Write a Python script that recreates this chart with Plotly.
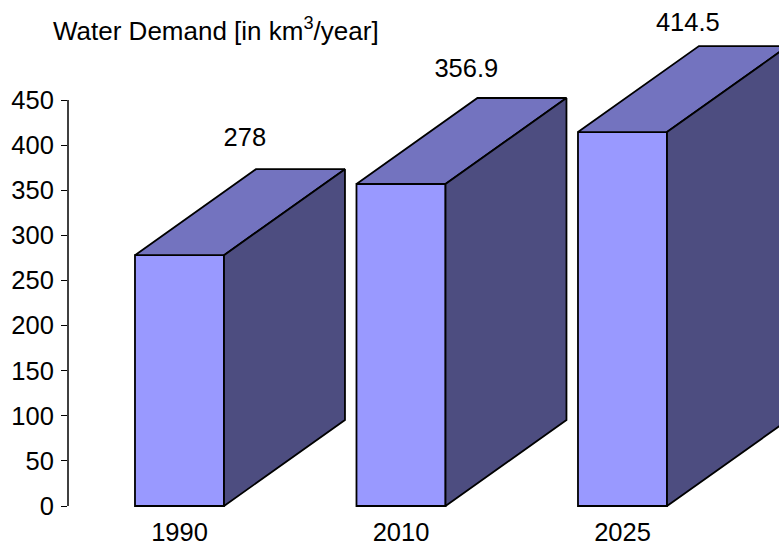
import plotly.graph_objects as go

# Data
years = ["1990", "2010", "2025"]
demand = [278, 356.9, 414.5]
labels = ["278", "356.9", "414.5"]
y_ticks = [0, 50, 100, 150, 200, 250, 300, 350, 400, 450]
title_text = "Water Demand [in km<sup>3</sup>/year]"

# Style / geometry
W, H = 779, 544
L, B = 68, 34
FONT = "Liberation Sans, Arial, sans-serif"
FS = 25.5
FRONT, TOP, SIDE = "#9999FF", "#7373BF", "#4D4D80"
EDGE = "#000000"
EDGE_W = 1.8
BAR_W = 0.402
DEPTH_X = 0.546
DEPTH_Y = 95.3
LABEL_DX = 0.295
LABEL_LIFT = [33, 30, 23.5]

fig = go.Figure()
positions = list(range(len(years)))
fig.add_trace(go.Bar(
    x=positions, y=demand, width=BAR_W,
    marker=dict(color=FRONT, line=dict(color=EDGE, width=EDGE_W)),
    showlegend=False, hoverinfo="skip",
))
for p, v in zip(positions, demand):
    x0, x1 = p - BAR_W / 2, p + BAR_W / 2
    fig.add_trace(go.Scatter(
        x=[x0, x1, x1 + DEPTH_X, x0 + DEPTH_X, x0],
        y=[v, v, v + DEPTH_Y, v + DEPTH_Y, v],
        mode="lines", fill="toself", fillcolor=TOP,
        line=dict(color=EDGE, width=EDGE_W), showlegend=False, hoverinfo="skip",
    ))
    fig.add_trace(go.Scatter(
        x=[x1, x1 + DEPTH_X, x1 + DEPTH_X, x1, x1],
        y=[0, DEPTH_Y, v + DEPTH_Y, v, 0],
        mode="lines", fill="toself", fillcolor=SIDE,
        line=dict(color=EDGE, width=EDGE_W), showlegend=False, hoverinfo="skip",
    ))
fig.add_trace(go.Scatter(
    x=[p + LABEL_DX for p in positions],
    y=[v + DEPTH_Y + d for v, d in zip(demand, LABEL_LIFT)],
    text=labels, mode="text", textposition="middle center",
    textfont=dict(family=FONT, size=FS, color="#000000"),
    showlegend=False, hoverinfo="skip",
))

unit = 221.5
px_per_val = 406 / 450
fig.update_layout(
    width=W, height=H, autosize=False,
    margin=dict(l=L, r=0, t=0, b=B, pad=0),
    paper_bgcolor="white", plot_bgcolor="white",
    font=dict(family=FONT, size=FS, color="#000000"),
    xaxis=dict(
        range=[(L - 179.5) / unit, (W - 179.5) / unit],
        tickmode="array", tickvals=positions, ticktext=years,
        ticks="", showgrid=False, zeroline=False, showline=False,
        ticklabelstandoff=4, automargin=False,
    ),
    yaxis=dict(
        range=[-4 / px_per_val, 506 / px_per_val],
        tickmode="array", tickvals=y_ticks,
        ticks="outside", ticklen=6, tickwidth=1, tickcolor="#000000",
        showgrid=False, zeroline=False, showline=False,
        ticklabelstandoff=2, automargin=False,
    ),
    shapes=[dict(type="line", xref="paper", yref="y", x0=0, x1=0, y0=0, y1=450,
                 line=dict(color="#000000", width=1.5))],
    annotations=[dict(
        text=title_text, xref="paper", yref="paper",
        x=(51 - L) / (W - L), y=1 - 29 / (H - B),
        xanchor="left", yanchor="middle", showarrow=False,
        font=dict(family=FONT, size=26, color="#000000"),
    )],
)
fig.write_html(
    "out.html",
    config={"displayModeBar": False},
    post_script="document.body.style.margin='0';document.documentElement.style.overflow='hidden';",
)
